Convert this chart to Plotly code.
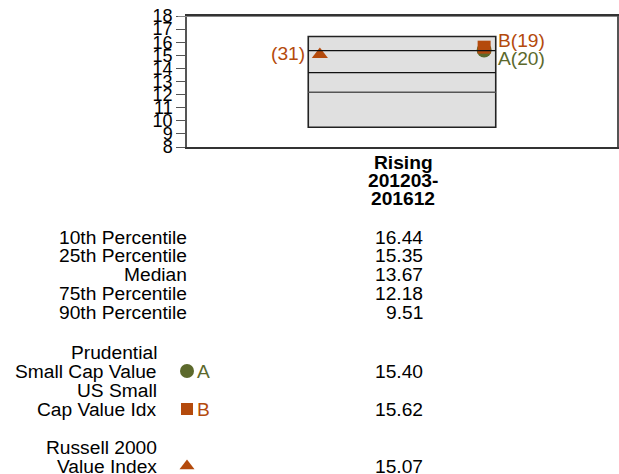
import plotly.graph_objects as go

# ---- data ----
period_label = ["Rising", "201203-", "201612"]
pct_names = ["10th Percentile", "25th Percentile", "Median", "75th Percentile", "90th Percentile"]
pct_values = [16.44, 15.35, 13.67, 12.18, 9.51]
series_names = [["Prudential", "Small Cap Value"], ["US Small", "Cap Value Idx"], ["Russell 2000", "Value Index"]]
series_letters = ["A", "B", ""]
series_values = [15.40, 15.62, 15.07]
series_ranks = ["A(20)", "B(19)", "(31)"]
y_ticks = list(range(8, 19))

ORANGE = "#B44A0C"
OLIVE = "#5C692C"
colors = [OLIVE, ORANGE, ORANGE]
symbols = ["circle", "square", "triangle-up"]
sizes = [15, 13, 14]

W, H = 619, 474
# plot frame in pixels
L, R, T, B = 187, 617, 16, 147
FONT = "Liberation Sans, Arial, sans-serif"
FS = 19.2

fig = go.Figure()

# box from percentiles
fig.add_shape(type="rect", xref="x", yref="y", x0=-0.218, x1=0.218,
              y0=pct_values[4], y1=pct_values[0],
              fillcolor="#E0E0E0", line=dict(color="#222", width=1.6), layer="below")
for v, c in zip(pct_values[1:4], ["#111", "#111", "#555"]):
    fig.add_shape(type="line", xref="x", yref="y", x0=-0.218, x1=0.218, y0=v, y1=v,
                  line=dict(color=c, width=1.3))

# markers in plot: triangle left, circle & square right
mx = [0.191, 0.191, -0.191]
order = [2, 0, 1]
for i in order:
    fig.add_trace(go.Scatter(x=[mx[i]], y=[series_values[i]], mode="markers",
                             marker=dict(symbol=symbols[i], size=sizes[i], color=colors[i]),
                             showlegend=False, hoverinfo="skip", cliponaxis=False))

# rank labels
fig.add_annotation(x=mx[1], y=series_values[1], xref="x", yref="y", text=series_ranks[1],
                   showarrow=False, xanchor="left", xshift=12, yshift=7,
                   font=dict(family=FONT, size=FS, color=ORANGE))
fig.add_annotation(x=mx[0], y=series_values[0], xref="x", yref="y", text=series_ranks[0],
                   showarrow=False, xanchor="left", xshift=12, yshift=-8,
                   font=dict(family=FONT, size=FS, color=OLIVE))
fig.add_annotation(x=mx[2], y=series_values[2], xref="x", yref="y", text=series_ranks[2],
                   showarrow=False, xanchor="right", xshift=-13, yshift=1,
                   font=dict(family=FONT, size=FS, color=ORANGE))

# top gray border (incl. top tick)
fig.add_shape(type="line", xref="paper", yref="y", x0=(L - 9) / W, x1=R / W,
              y0=18, y1=18, line=dict(color="#888", width=2))

# ---- table below (pixel overlay axes, values = page px) ----
def px_ann(x, y, text, anchor, color="black", bold=False):
    fig.add_annotation(x=x, y=y, xref="x2", yref="y2", text=f"<b>{text}</b>" if bold else text,
                       showarrow=False, xanchor=anchor, yanchor="middle",
                       font=dict(family=FONT, size=FS, color=color))

# category label
for k, line in enumerate(period_label):
    px_ann(403, 162 + 18 * k, line, "center", bold=True)

for k, (n, v) in enumerate(zip(pct_names, pct_values)):
    y = 237 + 18.8 * k
    px_ann(189, y, n, "right")
    px_ann(425, y, f"{v:.2f}", "right")

group_y = [371, 409, 466]
for i in range(3):
    y = group_y[i]
    px_ann(159, y - 19, series_names[i][0], "right")
    px_ann(159, y, series_names[i][1], "right")
    px_ann(425, y, f"{series_values[i]:.2f}", "right")
    if series_letters[i]:
        px_ann(195, y, series_letters[i], "left", color=colors[i])
    fig.add_trace(go.Scatter(x=[187], y=[y], xaxis="x2", yaxis="y2", mode="markers",
                             marker=dict(symbol=symbols[i], size=sizes[i] - 1, color=colors[i]),
                             showlegend=False, hoverinfo="skip", cliponaxis=False))

fig.update_layout(
    width=W, height=H, margin=dict(l=0, r=0, t=0, b=0, pad=0, autoexpand=False),
    paper_bgcolor="white", plot_bgcolor="rgba(0,0,0,0)",
    font=dict(family=FONT, size=FS, color="black"),
    xaxis=dict(domain=[L / W, R / W], range=[-0.5, 0.5], showticklabels=False,
               showgrid=False, zeroline=False, showline=True, mirror=True,
               linecolor="#333", linewidth=1.5, ticks=""),
    yaxis=dict(domain=[1 - B / H, 1 - T / H], range=[8, 18], tickvals=y_ticks,
               ticktext=[str(t) for t in y_ticks], ticks="outside", ticklen=9,
               tickcolor="#555", showgrid=False, zeroline=False, showline=True,
               mirror=True, linecolor="#555", linewidth=1.5, ticklabeloverflow="allow",
               tickfont=dict(family=FONT, size=18, color="black")),
    xaxis2=dict(domain=[0, 1], range=[0, W], visible=False, anchor="y2"),
    yaxis2=dict(domain=[0, 1], range=[H, 0], visible=False, anchor="x2"),
)

fig.write_html(
    "out.html",
    config={"displayModeBar": False},
    post_script="document.body.style.margin='0';"
                "document.documentElement.style.overflow='hidden';"
                "document.body.style.overflow='hidden';",
)
